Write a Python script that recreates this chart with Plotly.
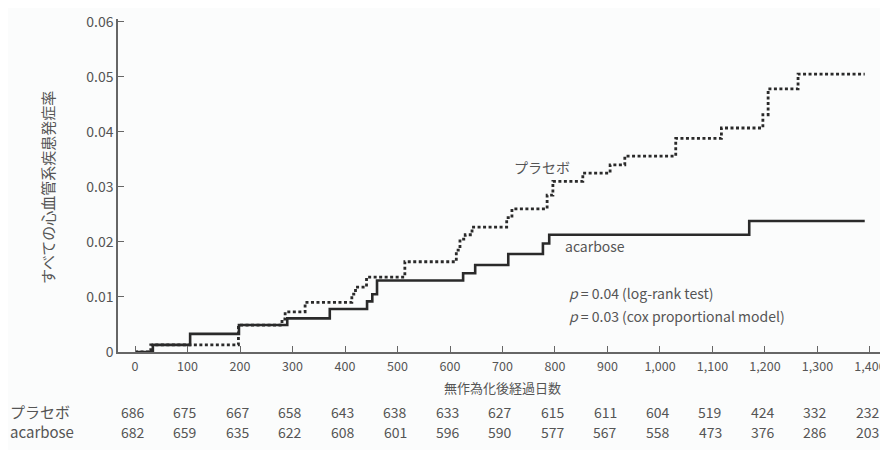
import plotly.graph_objects as go

# Kaplan-Meier style cumulative incidence (step) data
acarbose_days = [0, 34, 105, 198, 290, 371, 442, 452, 461, 625, 648, 711, 777, 789, 1170, 1390]
acarbose_vals = [0, 0.0013, 0.0033, 0.0049, 0.0061, 0.0078, 0.0092, 0.0105, 0.0130, 0.0143, 0.0158, 0.0178, 0.0197, 0.0213, 0.0238, 0.0238]

placebo_days = [0, 30, 197, 280, 286, 324, 413, 420, 441, 514, 612, 619, 629, 642, 708, 718, 785, 796, 853, 905, 933, 1030, 1117, 1196, 1206, 1263, 1390]
placebo_vals = [0, 0.0013, 0.0049, 0.0060, 0.0073, 0.0090, 0.0105, 0.0118, 0.0136, 0.0164, 0.0185, 0.0205, 0.0213, 0.0227, 0.0244, 0.0260, 0.0285, 0.0310, 0.0325, 0.0340, 0.0356, 0.0388, 0.0407, 0.0431, 0.0478, 0.0505, 0.0505]

x_ticks = [0, 100, 200, 300, 400, 500, 600, 700, 800, 900, 1000, 1100, 1200, 1300, 1400]
x_tick_labels = ["0", "100", "200", "300", "400", "500", "600", "700", "800", "900",
                 "1,000", "1,100", "1,200", "1,300", "1,400"]
y_ticks = [0, 0.01, 0.02, 0.03, 0.04, 0.05, 0.06]
y_tick_labels = ["0", "0.01", "0.02", "0.03", "0.04", "0.05", "0.06"]

risk_placebo = [686, 675, 667, 658, 643, 638, 633, 627, 615, 611, 604, 519, 424, 332, 232]
risk_acarbose = [682, 659, 635, 622, 608, 601, 596, 590, 577, 567, 558, 473, 376, 286, 203]

FONT = "Noto Sans CJK JP"
TXT = "#555555"
LINE = "#2a2a2a"

fig = go.Figure()
fig.add_trace(go.Scatter(x=acarbose_days, y=acarbose_vals, mode="lines",
                         line=dict(shape="hv", color=LINE, width=2.6),
                         name="acarbose", showlegend=False, hoverinfo="skip"))
fig.add_trace(go.Scatter(x=placebo_days, y=placebo_vals, mode="lines",
                         line=dict(shape="hv", color=LINE, width=2.8, dash="3px,2.5px"),
                         name="プラセボ", showlegend=False, hoverinfo="skip"))


def note(x, y, text, xref="x", yref="y", size=14, xanchor="center", **kw):
    return dict(x=x, y=y, xref=xref, yref=yref, text=text, showarrow=False,
                xanchor=xanchor, yanchor="middle",
                font=dict(size=size, color=TXT, family=FONT), **kw)


ann = [
    note(775, 0.0336, "プラセボ"),
    note(876, 0.0193, "acarbose"),
    note(823, 0.0107, "<i>p</i> = 0.04 (log-rank test)", xanchor="left"),
    note(823, 0.0065, "<i>p</i> = 0.03 (cox proportional model)", xanchor="left"),
    # axis titles
    note(-0.0916, 0.4925, "すべての心血管系疾患発症率", xref="paper", yref="paper", size=15, textangle=-90),
    note(700, -0.106, "無作為化後経過日数", yref="paper", size=13),
    # risk table row labels
    note(-0.144, -0.18, "プラセボ", xref="paper", yref="paper", xanchor="left", size=15),
    note(-0.144, -0.24, "acarbose", xref="paper", yref="paper", xanchor="left", size=15),
]
for d, a, b in zip(x_ticks, risk_placebo, risk_acarbose):
    ann.append(note(d - 4, -0.18, str(a), yref="paper"))
    ann.append(note(d - 4, -0.24, str(b), yref="paper"))

# page has an 8px body margin, so the figure is drawn 8px smaller and shifted
fig.update_layout(
    width=880, height=442,
    margin=dict(l=110, r=6, t=11, b=98, autoexpand=False),
    paper_bgcolor="#fbfcfc", plot_bgcolor="#fbfcfc",
    font=dict(family=FONT, color=TXT, size=14),
    annotations=ann,
    xaxis=dict(range=[-32.4, 1422.9], tickvals=x_ticks, ticktext=x_tick_labels,
               showgrid=False, zeroline=False, showline=True, linecolor="#666666", linewidth=1.5,
               ticks="inside", ticklen=6, tickcolor="#666666", automargin=False,
               ticklabelstandoff=2, ticklabeloverflow="allow",
               tickfont=dict(size=12.5, color=TXT, family=FONT)),
    yaxis=dict(range=[0, 0.0605], tickvals=y_ticks, ticktext=y_tick_labels,
               showgrid=False, zeroline=False, showline=True, linecolor="#666666", linewidth=1.5,
               ticks="inside", ticklen=6, tickcolor="#666666", automargin=False,
               tickfont=dict(size=14, color=TXT, family=FONT)),
)

fig.write_html("out.html")
